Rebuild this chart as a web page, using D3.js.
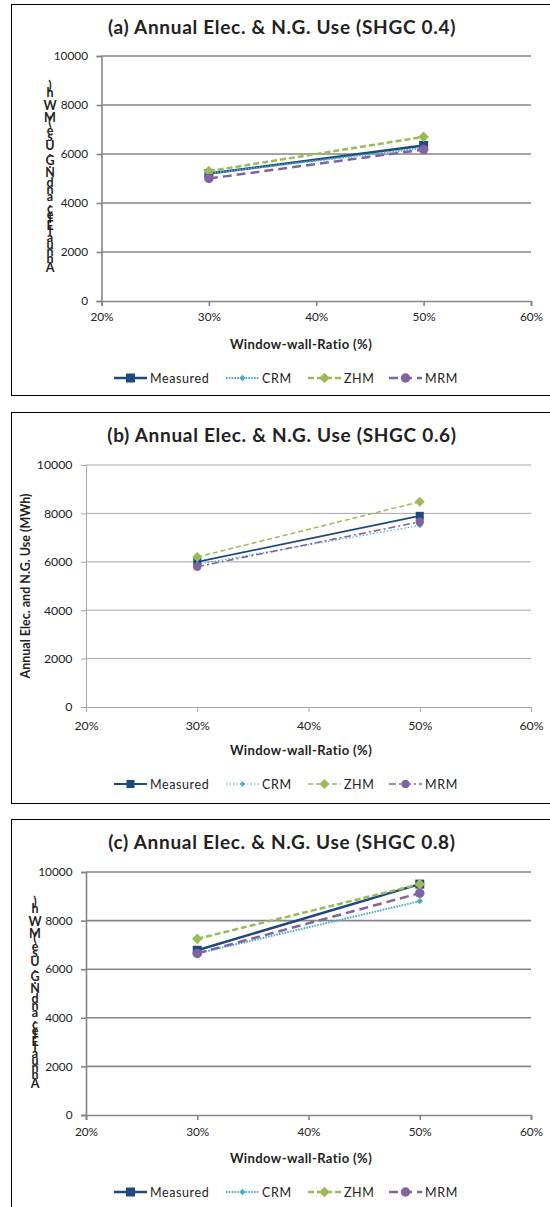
<!DOCTYPE html>
<html>
<head>
<meta charset="utf-8">
<script src="https://cdn.jsdelivr.net/npm/d3@7"></script>
<style>
  body { margin: 0; background: #fff; }
  svg { display: block; }
  text { font-family: Lato, "Open Sans", sans-serif; fill: #222; }
</style>
</head>
<body>
<svg id="chart" width="550" height="1207"></svg>
<script>
"use strict";

// ---- data ----
const wwr = [0.3, 0.5];                       // window-wall ratio of the two cases
const xTicks = [0.2, 0.3, 0.4, 0.5, 0.6];
const yTicks = [0, 2000, 4000, 6000, 8000, 10000];
const seriesNames = ["Measured", "CRM", "ZHM", "MRM"];
const panelTitles = [
  "(a) Annual Elec. & N.G. Use (SHGC 0.4)",
  "(b) Annual Elec. & N.G. Use (SHGC 0.6)",
  "(c) Annual Elec. & N.G. Use (SHGC 0.8)"
];
const yTitle = "Annual Elec. and N.G. Use (MWh)";
const xTitle = "Window-wall-Ratio (%)";

// SHGC 0.4
const measured04 = [5200, 6350];
const crm04      = [5200, 6250];
const zhm04      = [5300, 6700];
const mrm04      = [5000, 6180];
// SHGC 0.6
const measured06 = [6000, 7900];
const crm06      = [5900, 7500];
const zhm06      = [6200, 8480];
const mrm06      = [5800, 7650];
// SHGC 0.8
const measured08 = [6780, 9500];
const crm08      = [6650, 8800];
const zhm08      = [7250, 9500];
const mrm08      = [6650, 9130];

// ---- layout / style ----
const PANELS = [
  { title: panelTitles[0], data: [measured04, crm04, zhm04, mrm04],
    frameTop: 4, frameBottom: 395, left: 101.5, top: 56, bottom: 301,
    heavy: true, xPad: 7, yTitleMode: "stacked", yTitleX: 50, yTitleBottom: 272 },
  { title: panelTitles[1], data: [measured06, crm06, zhm06, mrm06],
    frameTop: 412, frameBottom: 803, left: 86, top: 465, bottom: 707,
    heavy: false, xPad: 9, yTitleMode: "rotated", yTitleX: 30 },
  { title: panelTitles[2], data: [measured08, crm08, zhm08, mrm08],
    frameTop: 819, frameBottom: 1230, left: 86, top: 872, bottom: 1115,
    heavy: true, xPad: 8, yTitleMode: "stacked", yTitleX: 35, yTitleBottom: 1088 }
];
const RIGHT = 531;

const COLORS = ["#1F497D", "#4BACC6", "#9BBB59", "#8064A2"];
const HEAVY = [
  { w: 2.5, dash: null,      sym: "square",  size: 9 },
  { w: 2,   dash: "1.6,1.2", sym: "diamond", size: 4.5 },
  { w: 2.5, dash: "6,3",     sym: "diamond", size: 7.5 },
  { w: 2.5, dash: "9,5",     sym: "circle",  size: 9.5 }
];
const LIGHT = [
  { w: 1.8, dash: null,      sym: "square",  size: 8 },
  { w: 1.2, dash: "1.5,2",   sym: "diamond", size: 4 },
  { w: 1.5, dash: "5,3",     sym: "diamond", size: 7 },
  { w: 1.6, dash: "7,3,2,3", sym: "circle",  size: 8.5 }
];
const LEGEND_X = [114, 226, 308, 389];

const svg = d3.select("#chart");
svg.append("rect").attr("width", 550).attr("height", 1207).attr("fill", "#fff");

function drawMarker(g, kind, size, color, x, y) {
  if (kind === "circle") {
    g.append("circle").attr("cx", x).attr("cy", y).attr("r", size / 2).attr("fill", color);
  } else if (kind === "square") {
    g.append("rect").attr("x", x - size / 2).attr("y", y - size / 2)
      .attr("width", size).attr("height", size).attr("fill", color);
  } else {
    g.append("rect").attr("x", -size / 2).attr("y", -size / 2)
      .attr("width", size).attr("height", size).attr("fill", color)
      .attr("transform", `translate(${x},${y}) rotate(45)`);
  }
}

function drawPanel(p) {
  const g = svg.append("g");
  const styles = p.heavy ? HEAVY : LIGHT;
  const gridColor = p.heavy ? "#868686" : "#a6a6a6";
  const gridW = p.heavy ? 1.6 : 1;

  // frame
  g.append("rect").attr("x", 11.5).attr("y", p.frameTop + 0.5)
    .attr("width", 560).attr("height", p.frameBottom - p.frameTop)
    .attr("fill", "none").attr("stroke", "#000").attr("stroke-width", 1);

  const x = d3.scaleLinear().domain([0.2, 0.6]).range([p.left, RIGHT]);
  const y = d3.scaleLinear().domain([0, 10000]).range([p.bottom, p.top]);

  // gridlines
  g.append("g").selectAll("line").data(yTicks.filter(d => d > 0)).join("line")
    .attr("x1", p.left).attr("x2", RIGHT)
    .attr("y1", d => y(d)).attr("y2", d => y(d))
    .attr("stroke", gridColor).attr("stroke-width", gridW);

  // axes
  const yAxis = g.append("g").attr("transform", `translate(${p.left},0)`)
    .call(d3.axisLeft(y).tickValues(yTicks).tickSize(5).tickPadding(8.5).tickFormat(d3.format("d")));
  const xAxis = g.append("g").attr("transform", `translate(0,${p.bottom})`)
    .call(d3.axisBottom(x).tickValues(xTicks).tickSize(5).tickPadding(p.xPad).tickFormat(d3.format(".0%")));
  [yAxis, xAxis].forEach(a => {
    a.select(".domain").attr("stroke", gridColor).attr("stroke-width", gridW);
    a.selectAll(".tick line").attr("stroke", gridColor).attr("stroke-width", gridW);
    a.selectAll(".tick text").attr("fill", "#222")
      .style("font-family", "Lato, sans-serif").style("font-size", p.heavy ? "11.8px" : "12.3px");
  });

  // title
  g.append("text").attr("x", 282).attr("y", p.frameTop + 30)
    .attr("text-anchor", "middle").style("font-size", "19px").style("font-weight", 700)
    .style("letter-spacing", "0.7px")
    .text(p.title);

  // x title
  g.append("text").attr("x", 301).attr("y", p.bottom + 47.5)
    .attr("text-anchor", "middle").style("font-size", "13px").style("font-weight", 700)
    .style("letter-spacing", "0.4px")
    .text(xTitle);

  // y title
  if (p.yTitleMode === "rotated") {
    g.append("text")
      .attr("transform", `translate(${p.yTitleX},${(p.top + p.bottom) / 2}) rotate(-90)`)
      .attr("text-anchor", "middle").style("font-size", "12.5px").style("font-weight", 700)
      .text(yTitle);
  } else {
    // glyphs laid out along the rotated baseline but drawn upright
    const probe = g.append("text").style("font-size", "12.5px").style("font-weight", 700)
      .attr("opacity", 0).text(yTitle);
    const node = probe.node();
    const chars = yTitle.split("");
    const adv = chars.map((c, i) => i === 0 ? 0 : node.getSubStringLength(0, i));
    probe.remove();
    g.append("g").selectAll("text").data(chars).join("text")
      .attr("x", p.yTitleX).attr("y", (d, i) => p.yTitleBottom - adv[i])
      .attr("text-anchor", "middle").style("font-size", "12.5px").style("font-weight", 700)
      .text(d => d);
  }

  // series
  const line = d3.line().x((d, i) => x(wwr[i])).y(d => y(d));
  p.data.forEach((vals, s) => {
    const st = styles[s];
    g.append("path").datum(vals).attr("d", line)
      .attr("fill", "none").attr("stroke", COLORS[s]).attr("stroke-width", st.w)
      .attr("stroke-dasharray", st.dash);
    vals.forEach((v, i) => drawMarker(g, st.sym, st.size, COLORS[s], x(wwr[i]), y(v)));
  });

  // legend
  const ly = p.bottom + 77;
  seriesNames.forEach((name, s) => {
    const st = styles[s];
    const lx = LEGEND_X[s];
    g.append("line").attr("x1", lx).attr("x2", lx + 33).attr("y1", ly).attr("y2", ly)
      .attr("stroke", COLORS[s]).attr("stroke-width", st.w).attr("stroke-dasharray", st.dash);
    drawMarker(g, st.sym, st.size, COLORS[s], lx + 16.5, ly);
    g.append("text").attr("x", lx + 36).attr("y", ly + 4.5)
      .style("font-size", "12.5px").style("letter-spacing", "0.6px").text(name);
  });
}

PANELS.forEach(drawPanel);
</script>
</body>
</html>
